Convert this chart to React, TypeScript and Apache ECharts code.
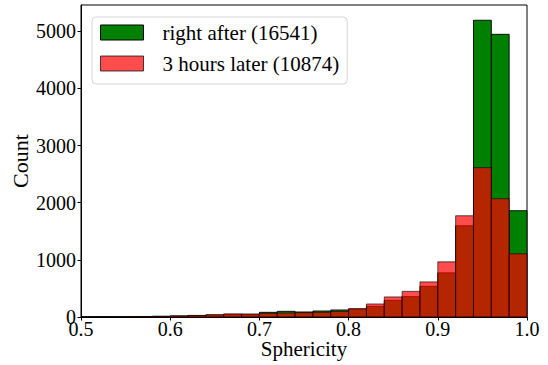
import React, { useEffect, useRef } from "react";
import * as echarts from "echarts";

const binEdges = [
  0.5, 0.52, 0.54, 0.56, 0.58, 0.6, 0.62, 0.64, 0.66, 0.68, 0.7, 0.72, 0.74,
  0.76, 0.78, 0.8, 0.82, 0.84, 0.86, 0.88, 0.9, 0.92, 0.94, 0.96, 0.98, 1.0,
];
const greenCounts = [
  1, 2, 3, 8, 12, 18, 25, 35, 45, 45, 82, 99, 88, 105, 123, 140, 186, 291, 356,
  537, 772, 1596, 5193, 4947, 1860,
];
const redCounts = [
  1, 2, 4, 8, 12, 20, 28, 40, 55, 53, 65, 70, 76, 82, 98, 145, 228, 351, 449,
  614, 965, 1772, 2614, 2070, 1105,
];
const seriesNames = ["right after (16541)", "3 hours later (10874)"];
const xTicks = { min: 0.5, max: 1.0, interval: 0.1 };
const yTicks = { min: 0, max: 5460, interval: 1000 };

const FONT = "Liberation Serif";
const GREEN = "#008000";
const RED = "rgba(255,0,0,0.7)";

function histData(counts: number[]) {
  return counts.map((c, i) => [binEdges[i], binEdges[i + 1], c]);
}

function makeRender(fill: string, stroke: string) {
  return (params: any, api: any) => {
    const x0 = api.value(0);
    const x1 = api.value(1);
    const y = api.value(2);
    const p0 = api.coord([x0, y]);
    const p1 = api.coord([x1, 0]);
    return {
      type: "rect",
      shape: { x: p0[0], y: p0[1], width: p1[0] - p0[0], height: p1[1] - p0[1] },
      style: { fill, stroke, lineWidth: 0.9 },
    };
  };
}

export default function App() {
  const ref = useRef<HTMLDivElement>(null);
  useEffect(() => {
    document.body.style.margin = "0";
    const chart = echarts.init(ref.current!, null, { renderer: "svg" });
    chart.setOption({
      animation: false,
      backgroundColor: "#ffffff",
      textStyle: { fontFamily: FONT, color: "#000" },
      grid: {
        left: 81,
        right: 21,
        top: 5,
        bottom: 48,
        containLabel: false,
        outerBoundsMode: "none",
        show: true,
        borderColor: "#000",
        borderWidth: 1,
        backgroundColor: "transparent",
      },
      legend: {
        left: 92,
        top: 17,
        orient: "vertical",
        padding: [5, 8, 10, 8],
        itemGap: 10,
        itemWidth: 43,
        itemHeight: 15,
        backgroundColor: "#ffffff",
        borderColor: "#d6d6d6",
        borderWidth: 1,
        borderRadius: 4,
        icon: "rect",
        textStyle: {
          fontFamily: FONT,
          fontSize: 21,
          color: "#000",
          padding: [0, 0, 0, 14],
        },
        data: [
          {
            name: seriesNames[0],
            itemStyle: { color: GREEN, borderColor: "#000", borderWidth: 1 },
          },
          {
            name: seriesNames[1],
            itemStyle: { color: RED, borderColor: "rgba(0,0,0,0.7)", borderWidth: 1 },
          },
        ],
      },
      xAxis: {
        type: "value",
        min: xTicks.min,
        max: xTicks.max,
        interval: xTicks.interval,
        name: "Sphericity",
        nameLocation: "middle",
        nameGap: 32,
        nameMoveOverlap: false,
        nameTextStyle: {
          fontFamily: FONT,
          fontSize: 21,
          color: "#000",
          align: "center",
          verticalAlign: "middle",
        },
        axisLine: { show: true, lineStyle: { color: "#000", width: 1 } },
        axisTick: { show: true, length: 3.5, lineStyle: { color: "#000" } },
        axisLabel: {
          fontFamily: FONT,
          fontSize: 20,
          color: "#000",
          margin: 2,
          formatter: (v: number) => v.toFixed(1),
        },
        splitLine: { show: false },
      },
      yAxis: {
        type: "value",
        min: yTicks.min,
        max: yTicks.max,
        interval: yTicks.interval,
        name: "Count",
        nameLocation: "middle",
        nameGap: 61,
        nameRotate: 90,
        nameMoveOverlap: false,
        nameTextStyle: {
          fontFamily: FONT,
          fontSize: 22,
          color: "#000",
          align: "center",
          verticalAlign: "middle",
        },
        axisLine: { show: true, lineStyle: { color: "#000", width: 1 } },
        axisTick: { show: true, length: 3.5, lineStyle: { color: "#000" } },
        axisLabel: {
          fontFamily: FONT,
          fontSize: 20,
          color: "#000",
          margin: 5,
          showMaxLabel: false,
          formatter: (v: number) => String(v),
        },
        splitLine: { show: false },
      },
      series: [
        {
          name: seriesNames[0],
          type: "custom",
          renderItem: makeRender(GREEN, "#000"),
          itemStyle: { color: GREEN },
          encode: { x: [0, 1], y: 2 },
          data: histData(greenCounts),
        },
        {
          name: seriesNames[1],
          type: "custom",
          renderItem: makeRender(RED, "rgba(0,0,0,0.7)"),
          itemStyle: { color: RED },
          encode: { x: [0, 1], y: 2 },
          data: histData(redCounts),
        },
      ],
    });
    return () => chart.dispose();
  }, []);
  return <div ref={ref} style={{ width: 548, height: 365 }} />;
}
